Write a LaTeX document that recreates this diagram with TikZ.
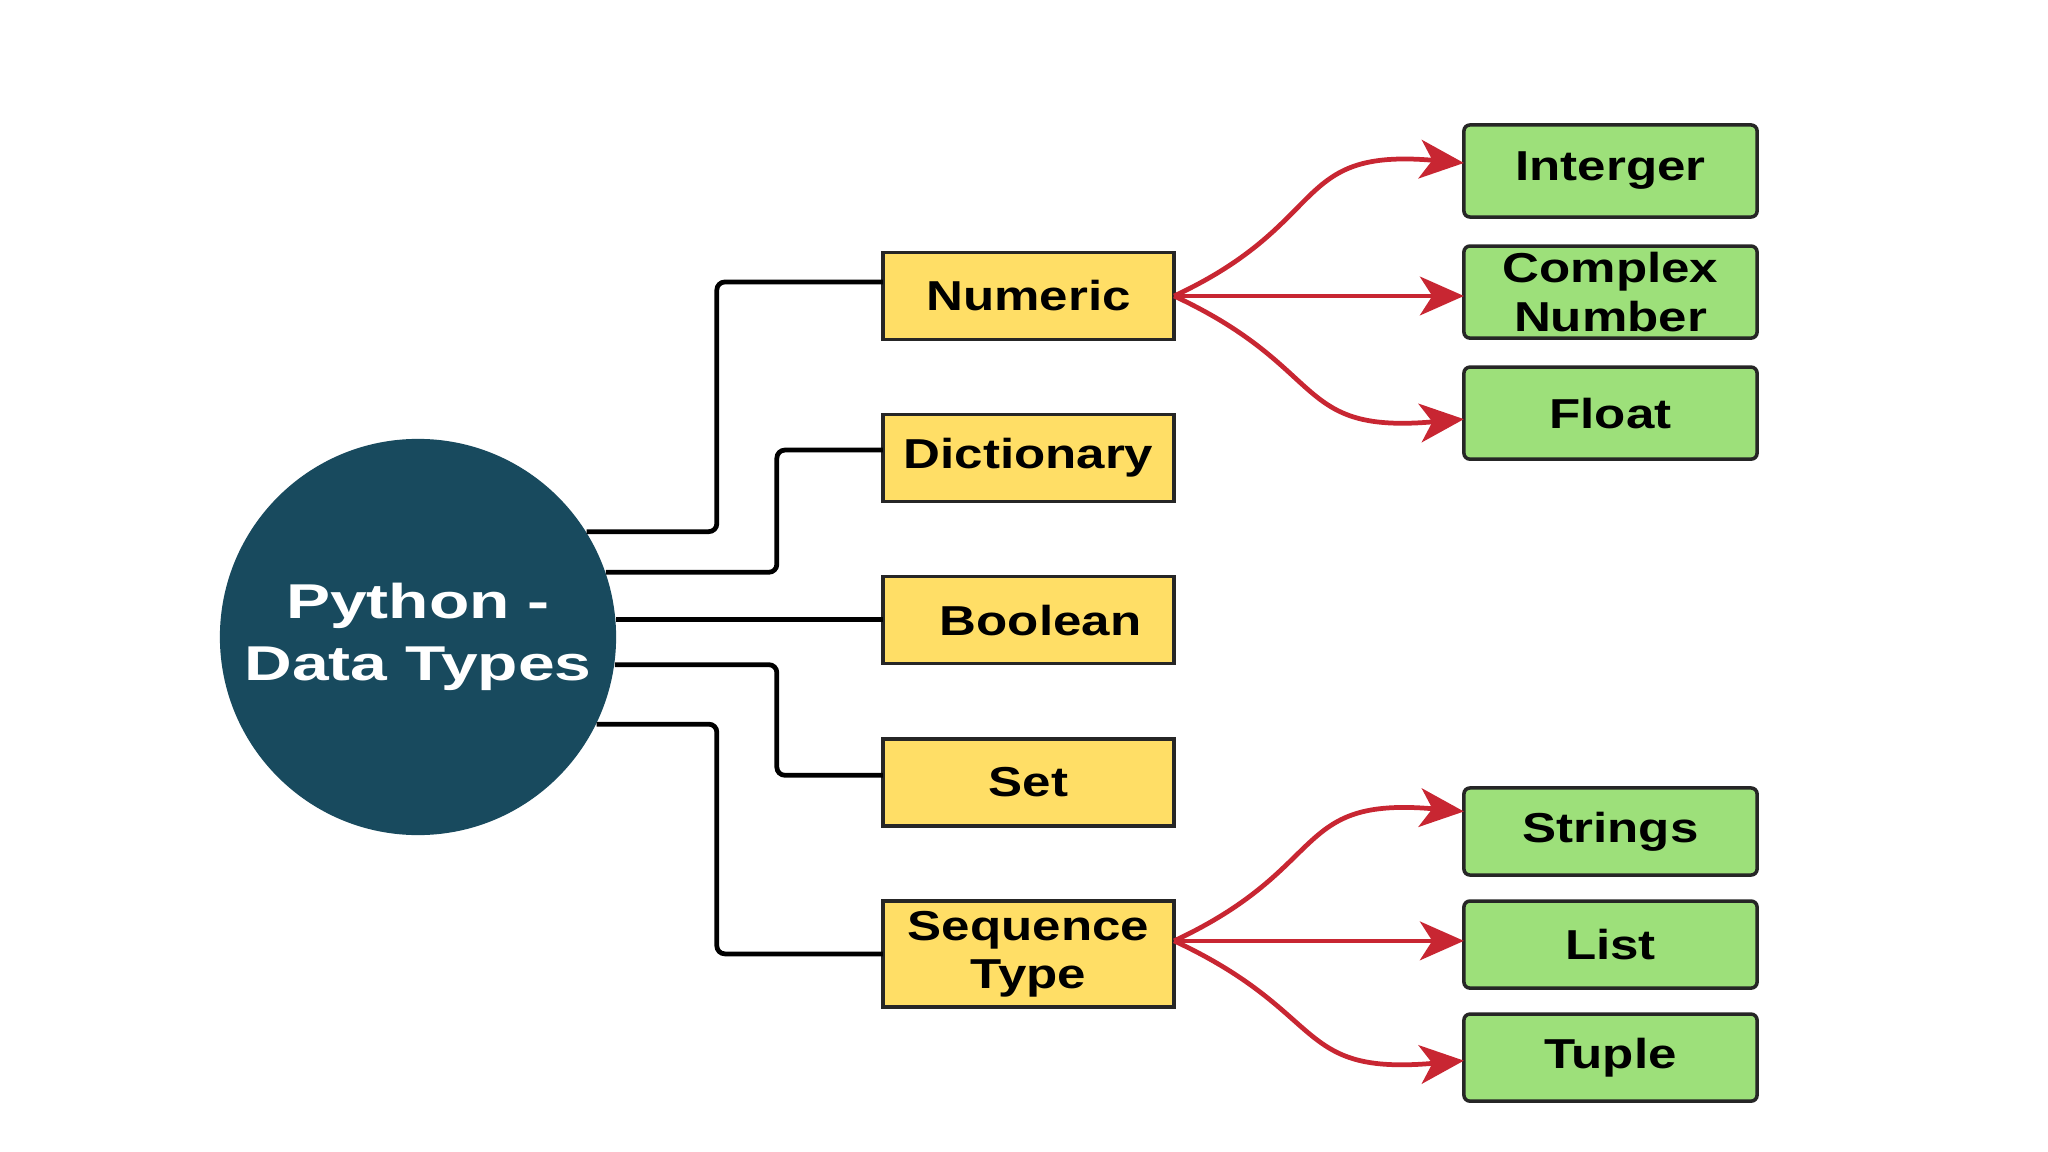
\documentclass[tikz,border=0pt]{standalone}
\usepackage{fontspec}
\setmainfont{Liberation Sans}
\newfontfamily\hubfont[FakeStretch=1.35]{Liberation Sans}
\newfontfamily\boxfont[FakeStretch=1.22]{Liberation Sans}
\usepackage{xcolor}
\usepackage{tikz}
\usetikzlibrary{positioning,arrows.meta}
\definecolor{hubteal}{RGB}{24,74,94}
\definecolor{kindyellow}{RGB}{255,222,102}
\definecolor{leafgreen}{RGB}{157,224,122}
\definecolor{flowred}{RGB}{200,38,50}

\begin{document}
\begin{tikzpicture}[x=0.01cm, y=-0.01cm,
  hub/.style={circle, fill=hubteal, text=white, minimum size=3.96cm, inner sep=0pt, align=center, font=\hubfont\bfseries\fontsize{13.9}{17.6}\selectfont},
  kind/.style={draw=black!85, line width=1pt, fill=kindyellow, minimum width=2.91cm, minimum height=0.87cm, inner sep=0pt, outer sep=0pt, align=center, font=\boxfont\bfseries\fontsize{11.9}{13.7}\selectfont},
  leaf/.style={kind, fill=leafgreen, rounded corners=1.7pt, minimum width=2.93cm, minimum height=0.92cm},
  link/.style={line width=1.35pt, rounded corners=0.08cm},
  flow/.style={draw=flowred, line width=1.35pt, -{Stealth[length=12.5pt, width=11pt, inset=3.5pt]}},
  up/.style={out=25, in=175, looseness=1.4},
  down/.style={out=-25, in=185, looseness=1.4},
  node distance=0.75cm]
\useasboundingbox (0,0) rectangle (2048,1152);
\node[hub] (py) at (418,637) {Python -\\Data Types};
\node[kind] (num) at (1028.5,296) {Numeric};
\node[kind, below=of num] (dict) {Dictionary};
\node[kind, below=of dict] (bool) {\hspace*{0.24cm}Boolean};
\node[kind, below=of bool] (set) {Set};
\node[kind, below=of set, minimum height=1.06cm] (seq) {Sequence\\Type};
\node[leaf] (int) at (1610.5,171) {Interger};
\node[leaf, below=0.29cm of int] (cpx) {Complex\\Number};
\node[leaf, below=0.29cm of cpx] (flt) {Float};
\node[leaf, minimum height=0.87cm] (str) at (1610.5,831.5) {Strings};
\node[leaf, minimum height=0.87cm, below=0.26cm of str] (lst) {List};
\node[leaf, minimum height=0.87cm, below=0.26cm of lst] (tup) {Tuple};
\coordinate (seqout) at ([yshift=0.13cm]seq.east);
% black branches
\draw[link] (py.32) -| ([xshift=-1.66cm, yshift=0.14cm]num.west) -- ([yshift=0.14cm]num.west);
\draw[link] (py.19) -| ([xshift=-1.06cm, yshift=0.08cm]dict.west) -- ([yshift=0.08cm]dict.west);
\draw[link] (py.5) -- (py.5 -| bool.west);
\draw[link] (py.-8) -| ([xshift=-1.06cm, yshift=0.07cm]set.west) -- ([yshift=0.07cm]set.west);
\draw[link] (py.-26) -| ([xshift=-1.66cm]seq.west) -- (seq.west);
% red arrows
\draw[flow] (num.east) to[up] ([yshift=0.08cm]int.west);
\draw[flow] (num.east) -- (num.east -| cpx.west);
\draw[flow] (num.east) to[down] ([yshift=-0.06cm]flt.west);
\draw[flow] (seqout) to[up] ([yshift=0.2cm]str.west);
\draw[flow] (seqout) -- (seqout -| lst.west);
\draw[flow] (seqout) to[down] ([yshift=-0.03cm]tup.west);
\end{tikzpicture}
\end{document}
